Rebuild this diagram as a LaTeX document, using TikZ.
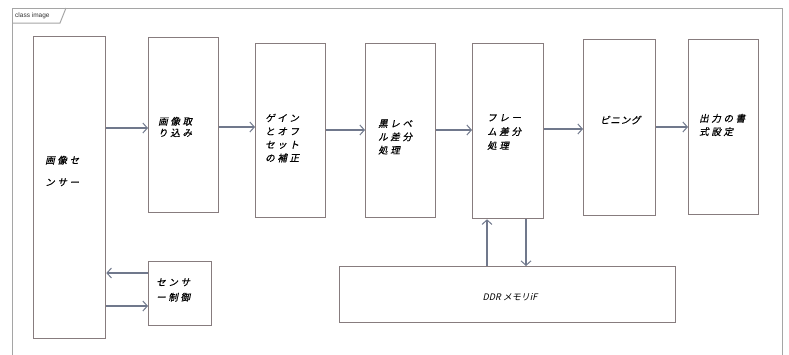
\documentclass[tikz,border=0pt]{standalone}
\usepackage{fontspec}
\usetikzlibrary{arrows.meta}
\newfontfamily\jp[FakeSlant=0.22,LetterSpace=28,FakeBold=0.6]{Noto Sans CJK JP}
\newfontfamily\jpn[FakeSlant=0.22]{Noto Sans CJK JP}
\newfontfamily\lab{Liberation Sans}
\definecolor{boxc}{RGB}{135,124,126}
\definecolor{arrc}{RGB}{112,120,140}
\definecolor{framec}{RGB}{165,165,165}
\tikzset{
  x=1pt, y=-1pt,
  blk/.style={draw=boxc, line width=1.3pt, fill=white, inner sep=0pt},
  txt/.style={font=\jp\fontsize{9.5}{13.3}\selectfont, align=left, anchor=west, inner sep=0pt},
  flow/.style={draw=arrc, line width=1.3pt, -{Straight Barb[length=4.5pt,width=10pt,line width=1pt]}},
}
\newcommand{\blkat}[5]{\node[blk, minimum width=#4-#2, minimum height=#5-#3, anchor=north west] (#1) at (#2,#3) {};}
\begin{document}
\begin{tikzpicture}
\useasboundingbox (0,0) rectangle (789,354);
\fill[white] (0,0) rectangle (789,354);
% frame
\draw[framec, line width=1pt] (12,360) -- (12,8) -- (782,8) -- (782,360);
\draw[framec, line width=1pt] (12,23) -- (60,23) -- (66,8);
\node[font=\lab\fontsize{6.5}{7}\selectfont, text=black!80, anchor=west, inner sep=0pt] (title) at (15,15.5) {class image};
% blocks
\blkat{sensor}{33}{36}{105}{338}
\blkat{cap}{148}{37}{218}{212}
\blkat{gain}{255}{43}{325}{217}
\blkat{black}{365}{43}{435}{217}
\blkat{frame}{472}{43}{543}{218}
\blkat{bin}{583}{39}{655}{215}
\blkat{out}{688}{39}{758}{214}
\blkat{ctrl}{148}{261}{211}{325}
\blkat{ddr}{339}{266}{675}{322}
% texts
\node[txt, font=\jp\fontsize{9.5}{22}\selectfont] (tsensor) at (45,171) {画像セ\\ンサー};
\node[txt, font=\jp\fontsize{9.5}{11.5}\selectfont] (tcap) at (158,127) {画像取\\り込み};
\node[txt] (tgain) at (265,138) {ゲイン\\とオフ\\セット\\の補正};
\node[txt] (tblack) at (378,137) {黒レベ\\ル差分\\処理};
\node[txt, font=\jp\fontsize{9.5}{14}\selectfont] (tframe) at (487,132) {フレー\\ム差分\\処理};
\node[txt, font=\jp\fontsize{9.5}{13}\selectfont\addfontfeatures{LetterSpace=8}] (tbin) at (600,120) {ビニング};
\node[txt] (tout) at (699,125) {出力の書\\式設定};
\node[txt, font=\jp\fontsize{9.5}{15}\selectfont] (tctrl) at (156,290) {センサ\\ー制御};
\node[font=\jpn\fontsize{9}{11}\selectfont, inner sep=0pt] (tddr) at (510,297) {DDR メモリiF};
% arrows
\draw[flow] (sensor.east |- 0,128) -- (cap.west |- 0,128);
\draw[flow] (cap.east |- 0,127) -- (gain.west |- 0,127);
\draw[flow] (gain.east |- 0,130) -- (black.west |- 0,130);
\draw[flow] (black.east |- 0,130) -- (frame.west |- 0,130);
\draw[flow] (frame.east |- 0,129) -- (bin.west |- 0,129);
\draw[flow] (bin.east |- 0,127) -- (out.west |- 0,127);
\draw[flow] (ctrl.west |- 0,273) -- (sensor.east |- 0,273);
\draw[flow] (sensor.east |- 0,306) -- (ctrl.west |- 0,306);
\draw[flow] (ddr.north -| 487,0) -- (frame.south -| 487,0);
\draw[flow] (frame.south -| 526,0) -- (ddr.north -| 526,0);
\end{tikzpicture}
\end{document}
